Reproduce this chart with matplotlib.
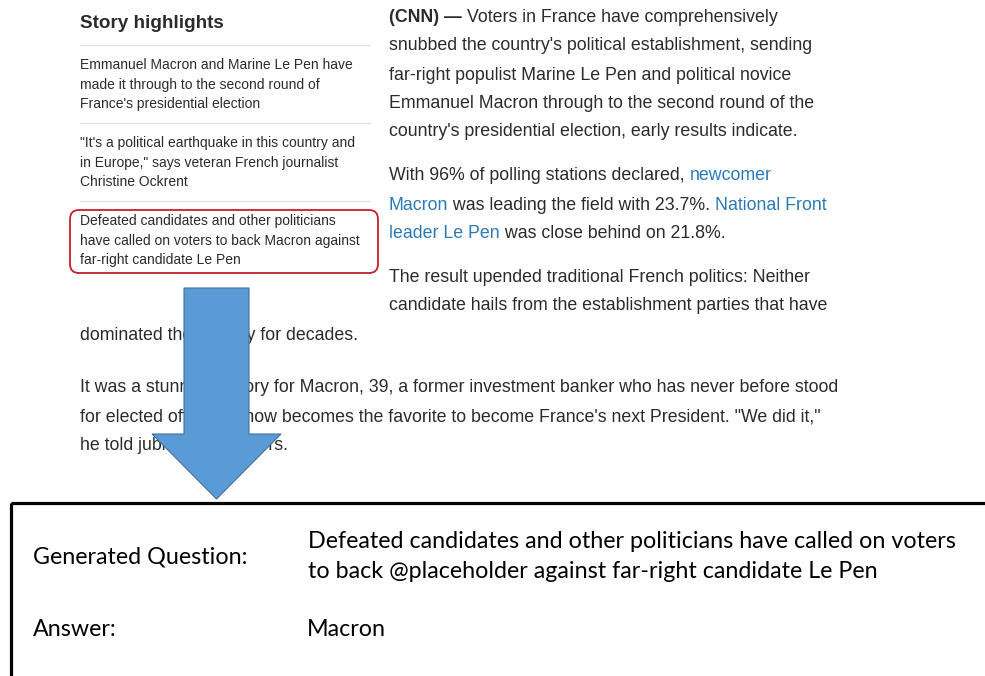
import matplotlib
matplotlib.use("Agg")
import matplotlib.pyplot as plt
from matplotlib.patches import FancyArrow, FancyBboxPatch, Rectangle

# text content
title = "Story highlights"
highlights = [
    ["Emmanuel Macron and Marine Le Pen have",
     "made it through to the second round of",
     "France's presidential election"],
    ["\"It's a political earthquake in this country and",
     "in Europe,\" says veteran French journalist",
     "Christine Ockrent"],
    ["Defeated candidates and other politicians",
     "have called on voters to back Macron against",
     "far-right candidate Le Pen"],
]
# each line is a list of (text, style) runs
article_right = [
    [("(CNN) \u2014 ", "bold"), ("Voters in France have comprehensively", "plain")],
    [("snubbed the country's political establishment, sending", "plain")],
    [("far-right populist Marine Le Pen and political novice", "plain")],
    [("Emmanuel Macron through to the second round of the", "plain")],
    [("country's presidential election, early results indicate.", "plain")],
    [("With 96% of polling stations declared, ", "plain"), ("newcomer", "link")],
    [("Macron", "link"), (" was leading the field with 23.7%. ", "plain"), ("National Front", "link")],
    [("leader Le Pen", "link"), (" was close behind on 21.8%.", "plain")],
    [("The result upended traditional French politics: Neither", "plain")],
    [("candidate hails from the establishment parties that have", "plain")],
]
article_wide = [
    "dominated the country for decades.",
    "It was a stunning victory for Macron, 39, a former investment banker who has never before stood",
    "for elected office, he now becomes the favorite to become France's next President. \"We did it,\"",
    "he told jubilant supporters.",
]
question_label = "Generated Question:"
question_lines = ["Defeated candidates and other politicians have called on voters",
                  "to back @placeholder against far-right candidate Le Pen"]
answer_label = "Answer:"
answer = "Macron"

TEXT = "#2b2b2b"
LINK = "#2a7ab8"
WEB = "Liberation Sans"
SLIDE = "Lato"

# line centres (pixels from top)
right_y = [17, 46, 75, 104, 132, 176, 205, 234, 277, 306]
wide_y = [335, 388, 417, 446]

W, H = 985, 676
fig = plt.figure(figsize=(W / 100, H / 100), dpi=100)
ax = fig.add_axes([0, 0, 1, 1])
ax.set_xlim(0, W)
ax.set_ylim(H, 0)
ax.axis("off")
renderer = fig.canvas.get_renderer()


def width(s, size, family, weight="normal"):
    t = ax.text(0, 0, s, fontsize=size, family=family, weight=weight)
    w = t.get_window_extent(renderer).width
    t.remove()
    return w


def fit(s, target, family, weight="normal"):
    return 10 * target / width(s, 10, family, weight)


def runs(x, y, parts, size, family, z=2):
    for s, style in parts:
        weight = "bold" if style == "bold" else "normal"
        color = LINK if style == "link" else TEXT
        ax.text(x, y, s, fontsize=size, family=family, weight=weight,
                color=color, va="center", ha="left", zorder=z)
        x += width(s + "|", size, family, weight) - width("|", size, family, weight)


# left column: highlights
ts = fit(title, 144, WEB, "bold")
ax.text(80, 23, title, fontsize=ts, family=WEB, weight="bold", color=TEXT, va="center")
hs = fit(highlights[0][0], 272, WEB)
for i, block in enumerate(highlights):
    y0 = 45 + 78 * i
    ax.plot([80, 370], [y0, y0], color="#e3e3e3", lw=1)
    for j, line in enumerate(block):
        ax.text(80, y0 + 20 + 19.5 * j, line, fontsize=hs, family=WEB, color=TEXT, va="center")

ax.add_patch(FancyBboxPatch((70, 210), 308, 63, boxstyle="round,pad=0,rounding_size=9",
                            fc="none", ec="#c3222a", lw=1.3, zorder=3))

# article body
bs = fit(article_right[1][0][0], 424, WEB)
for y, line in zip(right_y, article_right):
    runs(389, y, line, bs, WEB)
for y, line in zip(wide_y, article_wide):
    ax.text(80, y, line, fontsize=bs, family=WEB, color=TEXT, va="center")

# arrow on top of the text
ax.add_patch(FancyArrow(216.5, 288, 0, 211, width=65, head_width=129, head_length=65,
                        length_includes_head=True, fc="#5b9bd5", ec="#41719c", lw=0.8, zorder=5))

# slide box
ax.add_patch(Rectangle((11, 503), 1000, 300, fc="none", ec="black", lw=2.3, zorder=4))
qs = fit(question_lines[0], 649, SLIDE)
ax.text(33, 557, question_label, fontsize=qs, family=SLIDE, color="black", va="center")
for j, line in enumerate(question_lines):
    ax.text(308, 542 + 30 * j, line, fontsize=qs, family=SLIDE, color="black", va="center")
ax.text(33, 630, answer_label, fontsize=qs, family=SLIDE, color="black", va="center")
ax.text(307, 630, answer, fontsize=qs, family=SLIDE, color="black", va="center")

fig.savefig("out.png", dpi=100)
